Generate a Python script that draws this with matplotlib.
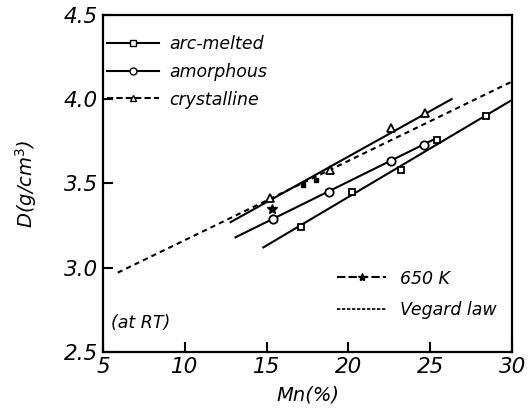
import matplotlib
matplotlib.use("Agg")
import matplotlib.pyplot as plt
from matplotlib.lines import Line2D

# arc-melted (squares) and fitted line ends
arc_x = [17.1, 20.2, 23.2, 25.4, 28.4]
arc_y = [3.24, 3.45, 3.58, 3.76, 3.90]
arc_line_x = [14.8, 29.9]
arc_line_y = [3.12, 3.99]

# amorphous (circles)
amor_x = [15.4, 18.8, 22.6, 24.6]
amor_y = [3.29, 3.45, 3.63, 3.73]
amor_line_x = [13.1, 25.2]
amor_line_y = [3.18, 3.76]

# crystalline (triangles)
cryst_x = [15.2, 18.9, 22.6, 24.7]
cryst_y = [3.415, 3.58, 3.83, 3.92]
cryst_line_x = [12.8, 26.3]
cryst_line_y = [3.27, 4.00]

# 650 K point and Vegard law
k650_x = [15.3]
k650_y = [3.35]
k650_dot_x = [17.2, 18.0]
k650_dot_y = [3.49, 3.52]
veg_x = [5.9, 29.9]
veg_y = [2.97, 4.10]

FONT = dict(family="DejaVu Sans", style="italic")

fig = plt.figure(figsize=(5.28, 4.13), dpi=100)
ax = fig.add_axes([0.195, 0.148, 0.775, 0.816])

k = "black"
ax.plot(veg_x, veg_y, ls=(0, (2.5, 2)), color=k, lw=1.5)
ax.plot(arc_line_x, arc_line_y, color=k, lw=1.5)
ax.plot(arc_x, arc_y, ls="none", marker="s", ms=5, mfc="white", mec=k, mew=1.3)
ax.plot(amor_line_x, amor_line_y, color=k, lw=1.5)
ax.plot(amor_x, amor_y, ls="none", marker="o", ms=6, mfc="white", mec=k, mew=1.3)
ax.plot(cryst_line_x, cryst_line_y, color=k, lw=1.5)
ax.plot(cryst_x, cryst_y, ls="none", marker="^", ms=6, mfc="white", mec=k, mew=1.3)
ax.plot(k650_x, k650_y, ls="none", marker="*", ms=7, color=k)
ax.plot(k650_dot_x, k650_dot_y, ls="none", marker="s", ms=3, color=k)

ax.set_xlim(5, 30)
ax.set_ylim(2.5, 4.5)
ax.set_xticks([5, 10, 15, 20, 25, 30])
ax.set_yticks([2.5, 3.0, 3.5, 4.0, 4.5])
ax.set_yticklabels(["2.5", "3.0", "3.5", "4.0", "4.5"])
ax.tick_params(direction="in", length=7, width=1.5, labelsize=15.5)
for lab in ax.get_xticklabels() + ax.get_yticklabels():
    lab.set_fontstyle("italic")
for sp in ax.spines.values():
    sp.set_linewidth(1.6)

ax.set_xlabel("Mn(%)", fontsize=14, labelpad=6, **FONT)
ax.set_ylabel(r"D(g/cm$^3$)", fontsize=14, labelpad=18, **FONT)

h1 = [
    Line2D([], [], color=k, lw=1.5, marker="s", ms=4, mfc="white", mec=k),
    Line2D([], [], color=k, lw=1.5, marker="o", ms=5, mfc="white", mec=k),
    Line2D([], [], color=k, lw=1.5, ls=(0, (3, 1.5)), marker="^", ms=5, mfc="white", mec=k),
]
leg1 = ax.legend(h1, ["arc-melted", "amorphous", "crystalline"], loc="upper left",
                 frameon=False, prop=dict(size=12.5, style="italic"),
                 handlelength=3.0, labelspacing=0.55, borderaxespad=0.3,
                 handletextpad=0.6, bbox_to_anchor=(-0.02, 0.975))
ax.add_artist(leg1)

h2 = [
    Line2D([], [], color=k, lw=1.5, ls=(0, (4, 1.5)), marker="*", ms=6),
    Line2D([], [], color=k, lw=1.2, ls=(0, (2, 1))),
]
ax.legend(h2, ["650 K", "Vegard law"], loc="lower right", frameon=False,
          prop=dict(size=12.5, style="italic"), handlelength=2.8,
          labelspacing=0.8, bbox_to_anchor=(1.0, 0.05), handletextpad=0.8)

ax.text(0.02, 0.07, "(at RT)", transform=ax.transAxes, fontsize=12.5, **FONT)

fig.savefig("out.png", dpi=100)
